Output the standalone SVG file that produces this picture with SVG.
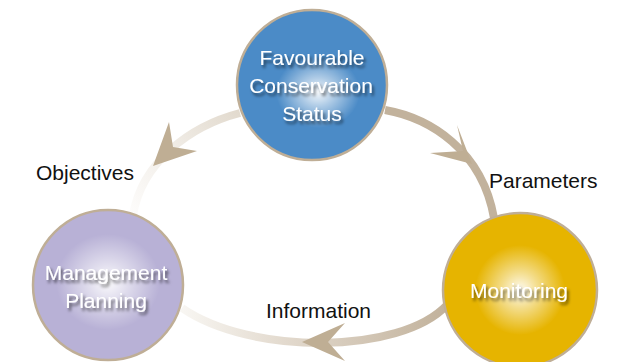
<svg xmlns="http://www.w3.org/2000/svg" width="625" height="362" viewBox="0 0 625 362">
<defs>
<style>
.lbl{font-family:"Liberation Sans",Arial,sans-serif;font-size:21px;fill:#111;}
.nt{font-family:"Liberation Sans",Arial,sans-serif;font-size:21px;fill:#fff;text-anchor:middle;filter:url(#sh);}
.node{stroke:#bfae96;stroke-width:2.5;}
.arc{fill:none;stroke-width:8;stroke-linecap:butt;}
.head{fill:#bfae94;}
</style>
<filter id="sh" x="-20%" y="-40%" width="150%" height="190%">
<feGaussianBlur in="SourceAlpha" stdDeviation="1.6"/>
<feOffset dx="2" dy="3" result="b"/>
<feFlood flood-color="#000" flood-opacity="0.55"/>
<feComposite in2="b" operator="in"/>
<feMerge><feMergeNode/><feMergeNode in="SourceGraphic"/></feMerge>
</filter>
<radialGradient id="glow">
<stop offset="0" stop-color="#fff" stop-opacity="0.95"/>
<stop offset="0.4" stop-color="#fff" stop-opacity="0.55"/>
<stop offset="1" stop-color="#fff" stop-opacity="0"/>
</radialGradient>
<linearGradient id="gLeft" gradientUnits="userSpaceOnUse" x1="240" y1="113" x2="133" y2="215">
<stop offset="0" stop-color="#e2dace"/>
<stop offset="0.5" stop-color="#f1ede7"/>
<stop offset="1" stop-color="#fdfcfb"/>
</linearGradient>
<linearGradient id="gBottom" gradientUnits="userSpaceOnUse" x1="445" y1="0" x2="182" y2="0">
<stop offset="0" stop-color="#c2b29c"/>
<stop offset="0.6" stop-color="#e2d9cd"/>
<stop offset="1" stop-color="#f8f6f2"/>
</linearGradient>
</defs>
<rect width="625" height="362" fill="#fff"/>
<g id="connectors">
<path class="arc" stroke="url(#gLeft)" d="M 240 113 C 190 126, 142 162, 133 215"/>
<path class="arc" stroke="#c2b29c" d="M 385 110 C 430 118, 482 150, 494 218"/>
<path class="arc" stroke="url(#gBottom)" d="M 447 305 C 400 355, 250 355, 182 308"/>
<polygon class="head" points="153,166 169,122 173,147 197,151"/>
<polygon class="head" points="472,164 457,125 463,151 430,153"/>
<polygon class="head" points="302,342 345,323 328,342 345,361"/>
</g>
<g id="n-objectives"><text class="lbl" x="36" y="180">Objectives</text></g>
<g id="n-parameters"><text class="lbl" x="489" y="188">Parameters</text></g>
<g id="n-information"><text class="lbl" x="266" y="318">Information</text></g>
<g id="n-fcs">
<circle class="node" cx="312" cy="85" r="75" fill="#4b8bc7"/>
<ellipse cx="318" cy="92" rx="42" ry="36" fill="url(#glow)"/>
<text class="nt" x="312" y="65">Favourable</text>
<text class="nt" x="311" y="93">Conservation</text>
<text class="nt" x="312" y="121">Status</text>
</g>
<g id="n-management">
<circle class="node" cx="108" cy="285" r="75" fill="#b8b1d6"/>
<ellipse cx="108" cy="282" rx="52" ry="48" fill="url(#glow)"/>
<text class="nt" x="106" y="280">Management</text>
<text class="nt" x="106" y="308">Planning</text>
</g>
<g id="n-monitoring">
<circle class="node" cx="520" cy="290" r="77" fill="#e6b400"/>
<ellipse cx="520" cy="290" rx="45" ry="45" fill="url(#glow)"/>
<text class="nt" x="519" y="298">Monitoring</text>
</g>
</svg>
